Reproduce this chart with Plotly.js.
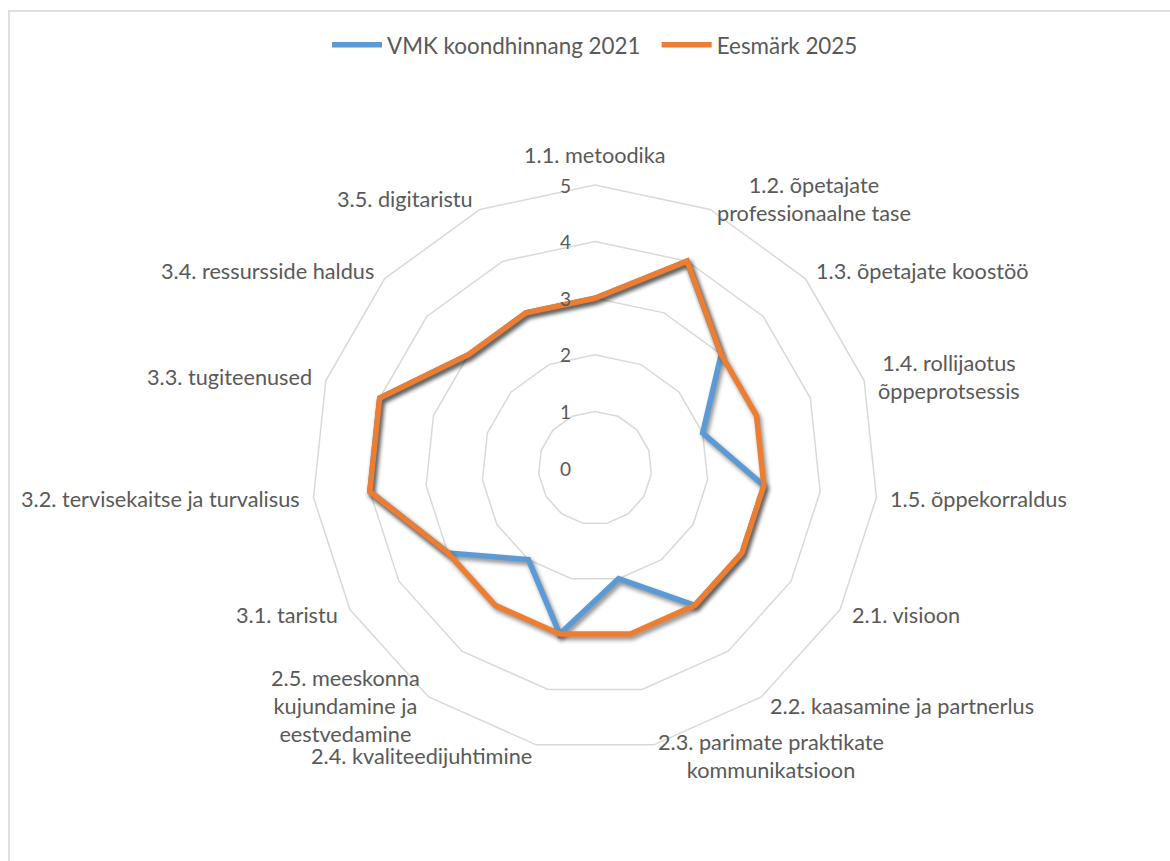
<!DOCTYPE html>
<html>
<head>
<meta charset="utf-8">
<script src="https://cdn.plot.ly/plotly-3.0.1.min.js"></script>
<style>
  html, body { margin: 0; padding: 0; background: #fff; }
  #frame { position: absolute; left: 8px; top: 10px; width: 1400px; height: 1000px; border: 2px solid #e0e0e0; box-sizing: border-box; }
  #chart { position: absolute; left: 0; top: 0; width: 1170px; height: 861px; }
</style>
</head>
<body>
<div id="frame"></div>
<div id="chart"></div>
<script>
const categories = [
  "1.1. metoodika", "1.2. õpetajate professionaalne tase", "1.3. õpetajate koostöö",
  "1.4. rollijaotus õppeprotsessis", "1.5. õppekorraldus", "2.1. visioon",
  "2.2. kaasamine ja partnerlus", "2.3. parimate praktikate kommunikatsioon",
  "2.4. kvaliteedijuhtimine", "2.5. meeskonna kujundamine ja eestvedamine",
  "3.1. taristu", "3.2. tervisekaitse ja turvalisus", "3.3. tugiteenused",
  "3.4. ressursside haldus", "3.5. digitaristu"
];
const tickLabels = [
  "1.1. metoodika", "1.2. õpetajate<br>professionaalne tase", "1.3. õpetajate koostöö",
  "1.4. rollijaotus<br>õppeprotsessis", "1.5. õppekorraldus", "2.1. visioon",
  "2.2. kaasamine ja partnerlus", "2.3. parimate praktikate<br>kommunikatsioon",
  "2.4. kvaliteedijuhtimine", "2.5. meeskonna<br>kujundamine ja<br>eestvedamine",
  "3.1. taristu", "3.2. tervisekaitse ja turvalisus", "3.3. tugiteenused",
  "3.4. ressursside haldus", "3.5. digitaristu"
];
const seriesNames = ["VMK koondhinnang 2021", "Eesmärk 2025"];
const vmk2021 = [3, 4, 3, 2, 3, 3, 3, 2, 3, 2, 3, 4, 4, 3, 3];
const eesmark2025 = [3, 4, 3, 3, 3, 3, 3, 3, 3, 3, 3, 4, 4, 3, 3];
const radialTicks = [0, 1, 2, 3, 4, 5];
const rMax = 5;

function closed(arr) { return arr.concat([arr[0]]); }

const FONT = "Lato, 'Open Sans', sans-serif";
const TXT = "#595959";

const traces = [
  {
    type: "scatterpolar", mode: "lines", name: seriesNames[0] + "\u2002",
    r: closed(vmk2021), theta: closed(categories), hoverinfo: "skip",
    line: { color: "#5B9BD5", width: 5.5, shape: "linear" }
  },
  {
    type: "scatterpolar", mode: "lines", name: seriesNames[1],
    r: closed(eesmark2025), theta: closed(categories), hoverinfo: "skip",
    line: { color: "#ED7D31", width: 5.5, shape: "linear" }
  }
];

// Category labels placed Excel-style next to each outer vertex (polar domain fills paper 0..1)
const n = categories.length;
const annotations = tickLabels.map(function (lbl, i) {
  const a = 2 * Math.PI * i / n; // clockwise from top
  const s = Math.sin(a), c = Math.cos(a);
  const top = Math.abs(s) < 0.1;
  return {
    xref: "paper", yref: "paper",
    x: 0.5 + 0.5 * s, y: 0.5 + 0.5 * c,
    text: lbl, showarrow: false, align: "center",
    xanchor: top ? "center" : (s > 0 ? "left" : "right"),
    yanchor: top ? "bottom" : "middle",
    xshift: top ? 0 : 12 * s,
    yshift: top ? 15 : 11 * c,
    font: { family: FONT, color: TXT, size: 21.7 }
  };
});
// Radial value labels along the first spoke (left of it, like Excel)
radialTicks.forEach(function (v) {
  annotations.push({
    xref: "paper", yref: "paper",
    x: 0.5, y: 0.5 + 0.5 * v / rMax,
    text: String(v), showarrow: false,
    xanchor: "right", yanchor: "middle", xshift: -22,
    font: { family: FONT, color: TXT, size: 19 }
  });
});

const layout = {
  width: 1170, height: 861,
  margin: { l: 312, r: 292, t: 185, b: 110 },
  paper_bgcolor: "rgba(0,0,0,0)", plot_bgcolor: "rgba(0,0,0,0)",
  font: { family: FONT, color: TXT, size: 21.7 },
  showlegend: true,
  legend: {
    orientation: "h", x: 0.5, xanchor: "center", y: 1.247, yanchor: "middle",
    font: { family: FONT, color: TXT, size: 22.4 }, itemwidth: 50, bgcolor: "rgba(0,0,0,0)"
  },
  annotations: annotations,
  polar: {
    domain: { x: [0, 1], y: [0, 1] },
    bgcolor: "rgba(0,0,0,0)",
    gridshape: "linear",
    angularaxis: {
      type: "category", rotation: 90, direction: "clockwise",
      tickmode: "array", tickvals: categories, showticklabels: false,
      showgrid: false, showline: true, linecolor: "#d9d9d9", linewidth: 1.5, ticks: ""
    },
    radialaxis: {
      range: [0, rMax], tickmode: "array", tickvals: radialTicks,
      showticklabels: false, showline: false, ticks: "",
      gridcolor: "#d9d9d9", gridwidth: 1.5
    }
  }
};

Plotly.newPlot("chart", traces, layout, { displayModeBar: false, staticPlot: true }).then(function () {
  document.querySelectorAll(".scatterlayer .trace").forEach(function (t) {
    t.style.filter = "drop-shadow(2px 3px 2px rgba(0,0,0,0.45))";
  });
});
</script>
</body>
</html>
